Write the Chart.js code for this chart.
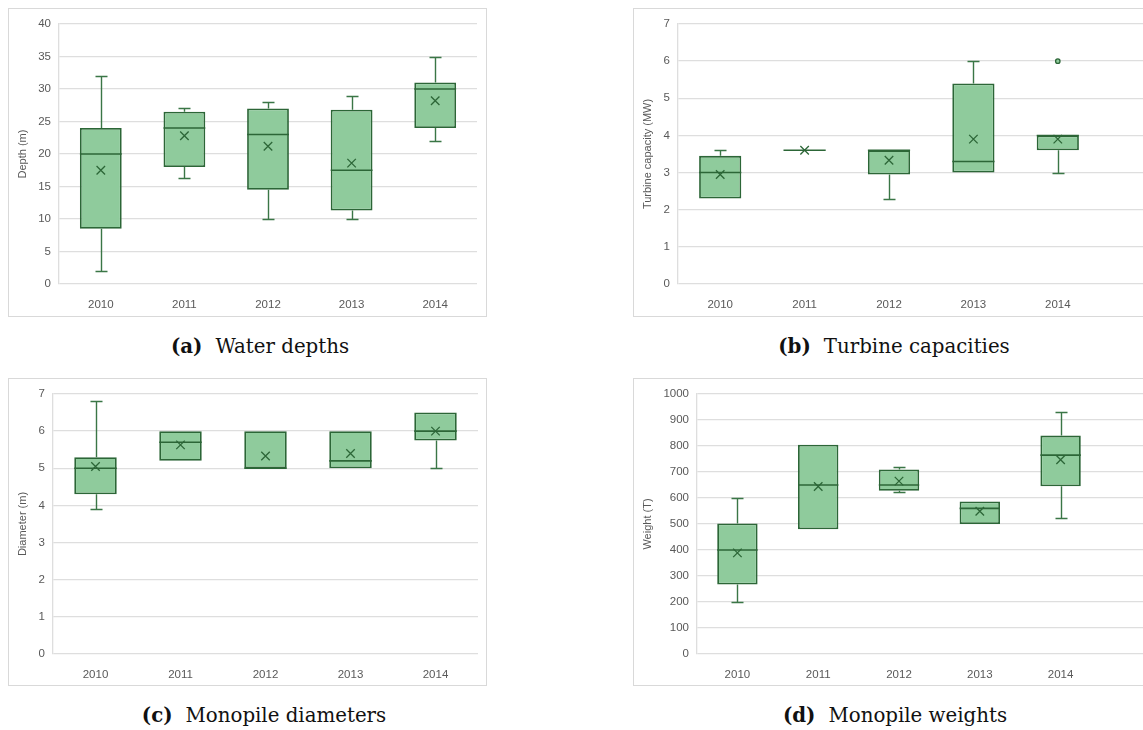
<!DOCTYPE html>
<html>
<head>
<meta charset="utf-8">
<title>Offshore wind foundations 2010–2014</title>
<script src="https://cdn.jsdelivr.net/npm/chart.js@4.4.1/dist/chart.umd.min.js"></script>
<style>
  html, body { margin: 0; padding: 0; background: #fff; }
  body { width: 1143px; height: 730px; overflow: hidden; position: relative; }
  .panel { position: absolute; border: 1px solid #d9d9d9; box-sizing: border-box; background: #fff; overflow: hidden; }
  .panel canvas { display: block; }
  .caption { position: absolute; font-family: "DejaVu Serif", "Liberation Serif", serif; font-size: 19.8px;
             color: #111; white-space: nowrap; transform: translateX(-50%); line-height: 22px; }
  .caption b { margin-right: 13px; }
</style>
</head>
<body>
<div class="panel" style="left:8px;top:8px;width:479px;height:309px"><canvas id="chartDepth" width="477" height="307"></canvas></div>
<div class="panel" style="left:633px;top:8px;width:540px;height:309px"><canvas id="chartCapacity" width="538" height="307"></canvas></div>
<div class="panel" style="left:8px;top:378px;width:479px;height:308px"><canvas id="chartDiameter" width="477" height="306"></canvas></div>
<div class="panel" style="left:633px;top:378px;width:540px;height:308px"><canvas id="chartWeight" width="538" height="306"></canvas></div>

<div class="caption" style="left:260px;top:335px"><b>(a)</b>Water depths</div>
<div class="caption" style="left:894px;top:335px"><b>(b)</b>Turbine capacities</div>
<div class="caption" style="left:264px;top:704px"><b>(c)</b>Monopile diameters</div>
<div class="caption" style="left:895px;top:704px"><b>(d)</b>Monopile weights</div>

<script>
// Installation years
const years = ['2010', '2011', '2012', '2013', '2014'];

// (a) Water depth, m
const depthMin    = [2, 16.3, 10, 10, 22];
const depthQ1     = [8.5, 18, 14.5, 11.3, 24];
const depthMedian = [20, 24, 23, 17.5, 30];
const depthQ3     = [24, 26.5, 27, 26.8, 31];
const depthMax    = [32, 27, 28, 29, 35];
const depthMean   = [17.5, 22.8, 21.2, 18.6, 28.2];
const depthOutliers = [[], [], [], [], []];

// (b) Turbine capacity, MW
const capMin    = [2.3, 3.6, 2.3, 3.0, 3.0];
const capQ1     = [2.3, 3.6, 2.95, 3.0, 3.6];
const capMedian = [3.0, 3.6, 3.6, 3.3, 4.0];
const capQ3     = [3.45, 3.6, 3.6, 5.4, 4.0];
const capMax    = [3.6, 3.6, 3.6, 6.0, 4.0];
const capMean   = [2.95, 3.6, 3.33, 3.9, 3.9];
const capOutliers = [[], [], [], [], [6.0]];

// (c) Monopile diameter, m
const diaMin    = [3.9, 5.2, 5.0, 5.0, 5.0];
const diaQ1     = [4.3, 5.2, 5.0, 5.0, 5.75];
const diaMedian = [5.0, 5.7, 5.0, 5.2, 6.0];
const diaQ3     = [5.3, 6.0, 6.0, 6.0, 6.5];
const diaMax    = [6.8, 6.0, 6.0, 6.0, 6.5];
const diaMean   = [5.05, 5.63, 5.33, 5.4, 6.0];
const diaOutliers = [[], [], [], [], []];

// (d) Monopile weight, t
const wMin    = [200, 480, 625, 500, 525];
const wQ1     = [267, 480, 628, 500, 645];
const wMedian = [400, 650, 650, 560, 765];
const wQ3     = [502, 805, 710, 587, 840];
const wMax    = [600, 805, 720, 587, 930];
const wMean   = [389, 644, 665, 549, 747];
const wOutliers = [[], [], [], [], []];

// Axis tick settings
const depthTicks = { max: 40, step: 5 };
const capTicks   = { max: 7, step: 1 };
const diaTicks   = { max: 7, step: 1 };
const wTicks     = { max: 1000, step: 100 };

const FILL = '#8fcb9c';
const EDGE = '#2c6637';
const WHISKER = '#3a7646';
const GRID = '#dedede';
const TEXT = '#595959';
const FONT = '"Liberation Sans", Arial, sans-serif';

// Whiskers behind the boxes, median bars on top of them
function boxWhiskerPlugin(stats) {
  return {
    id: 'boxWhiskers',
    beforeDatasetsDraw(chart) {
      const { ctx, scales: { x, y } } = chart;
      const cap = 12;
      ctx.save();
      ctx.strokeStyle = WHISKER;
      ctx.lineWidth = 1.4;
      stats.min.forEach((lo, i) => {
        const cx = Math.round(x.getPixelForValue(i)) + 0.5;
        const segs = [];
        if (stats.max[i] > stats.q3[i]) segs.push([stats.q3[i], stats.max[i]]);
        if (lo < stats.q1[i]) segs.push([stats.q1[i], lo]);
        segs.forEach(([from, to]) => {
          const y0 = y.getPixelForValue(from);
          const y1 = Math.round(y.getPixelForValue(to)) + 0.5;
          ctx.beginPath();
          ctx.moveTo(cx, y0);
          ctx.lineTo(cx, y1);
          ctx.moveTo(cx - cap / 2, y1);
          ctx.lineTo(cx + cap / 2, y1);
          ctx.stroke();
        });
      });
      ctx.restore();
    },
    afterDatasetDraw(chart, args) {
      if (args.index !== 0) return;
      const { ctx, scales: { y } } = chart;
      const bars = chart.getDatasetMeta(0).data;
      ctx.save();
      ctx.strokeStyle = EDGE;
      ctx.lineWidth = 1.6;
      stats.median.forEach((m, i) => {
        const bar = bars[i];
        const py = y.getPixelForValue(m);
        ctx.beginPath();
        ctx.moveTo(bar.x - bar.width / 2, py);
        ctx.lineTo(bar.x + bar.width / 2, py);
        ctx.stroke();
      });
      ctx.restore();
    }
  };
}

function makePanel(canvasId, stats, ticks, title, layout) {
  const plotWidth = layout.width - layout.yAxisWidth - layout.padRight;
  const xMax = -0.5 + plotWidth / (layout.spacing || plotWidth / years.length);
  const boxes = years.map((_, i) => ({ x: i, y: [stats.q1[i], stats.q3[i]] }));
  const means = stats.mean.map((v, i) => ({ x: i, y: v }));
  const outliers = [];
  stats.outliers.forEach((list, i) => list.forEach(v => outliers.push({ x: i, y: v })));

  new Chart(document.getElementById(canvasId), {
    type: 'bar',
    data: {
      datasets: [
        {
          type: 'bar',
          data: boxes,
          backgroundColor: FILL,
          borderColor: EDGE,
          borderWidth: 1.8,
          borderSkipped: false,
          barPercentage: 0.5,
          categoryPercentage: 1,
          order: 3
        },
        {
          type: 'scatter',
          data: means,
          pointStyle: 'crossRot',
          pointRadius: 6,
          borderColor: EDGE,
          borderWidth: 1.3,
          backgroundColor: EDGE,
          order: 1
        },
        {
          type: 'scatter',
          data: outliers,
          pointStyle: 'circle',
          pointRadius: 2.2,
          borderColor: EDGE,
          borderWidth: 1.3,
          backgroundColor: FILL,
          order: 1
        }
      ]
    },
    options: {
      responsive: false,
      animation: false,
      devicePixelRatio: 1,
      layout: { padding: { left: 0, top: layout.padTop, right: layout.padRight, bottom: 0 } },
      plugins: { legend: { display: false }, tooltip: { enabled: false } },
      scales: {
        x: {
          type: 'linear',
          offset: false,
          min: -0.5,
          max: xMax,
          grid: { display: false },
          border: { display: false },
          afterBuildTicks: s => { s.ticks = years.map((_, i) => ({ value: i })); },
          afterFit: s => { s.height = layout.xAxisHeight; },
          ticks: {
            autoSkip: false,
            maxRotation: 0,
            padding: 6,
            color: TEXT,
            font: { family: FONT, size: 11.5 },
            callback: v => years[v]
          }
        },
        y: {
          min: 0,
          max: ticks.max,
          grid: { color: GRID, lineWidth: 1.3, drawTicks: false },
          border: { display: true, color: GRID, width: 1.3 },
          afterFit: s => { s.width = layout.yAxisWidth; },
          ticks: {
            stepSize: ticks.step,
            padding: 8,
            color: TEXT,
            font: { family: FONT, size: 11.5 },
            callback: v => String(v)
          },
          title: {
            display: true,
            text: title,
            color: TEXT,
            padding: { top: 7, bottom: 0 },
            font: { family: FONT, size: 11 }
          }
        }
      }
    },
    plugins: [boxWhiskerPlugin(stats)]
  });
}

makePanel('chartDepth',
  { min: depthMin, q1: depthQ1, median: depthMedian, q3: depthQ3, max: depthMax, mean: depthMean, outliers: depthOutliers },
  depthTicks, 'Depth (m)',
  { width: 477, yAxisWidth: 50, padTop: 15, padRight: 9, xAxisHeight: 32 });

makePanel('chartCapacity',
  { min: capMin, q1: capQ1, median: capMedian, q3: capQ3, max: capMax, mean: capMean, outliers: capOutliers },
  capTicks, 'Turbine capacity (MW)',
  { width: 538, yAxisWidth: 44, padTop: 15, padRight: 9, xAxisHeight: 32, spacing: 84.4 });

makePanel('chartDiameter',
  { min: diaMin, q1: diaQ1, median: diaMedian, q3: diaQ3, max: diaMax, mean: diaMean, outliers: diaOutliers },
  diaTicks, 'Diameter (m)',
  { width: 477, yAxisWidth: 44, padTop: 15, padRight: 8, xAxisHeight: 31 });

makePanel('chartWeight',
  { min: wMin, q1: wQ1, median: wMedian, q3: wQ3, max: wMax, mean: wMean, outliers: wOutliers },
  wTicks, 'Weight (T)',
  { width: 538, yAxisWidth: 63, padTop: 15, padRight: 9, xAxisHeight: 31, spacing: 80.8 });
</script>
</body>
</html>
